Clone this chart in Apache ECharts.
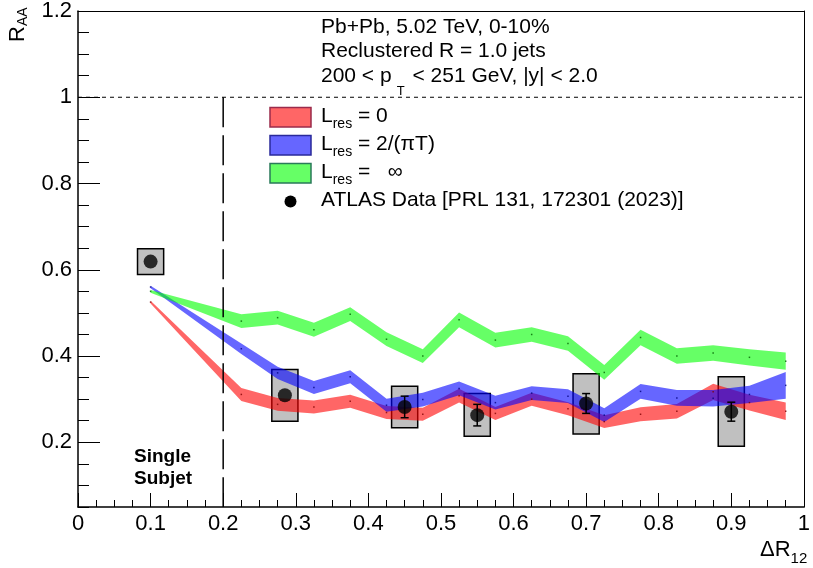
<!DOCTYPE html>
<html>
<head>
<meta charset="utf-8">
<script src="https://cdn.jsdelivr.net/npm/echarts@6/dist/echarts.min.js"></script>
<style>
html,body{margin:0;padding:0;background:#fff;}
#chart{width:813px;height:568px;}
</style>
</head>
<body>
<div id="chart"></div>
<script>
// ---------------- data ----------------
const xTheory = [0.1, 0.225, 0.275, 0.325, 0.375, 0.425, 0.475, 0.525, 0.575, 0.625, 0.675, 0.725, 0.775, 0.825, 0.875, 0.925, 0.975];

const lres0Center = [0.525, 0.311, 0.288, 0.282, 0.295, 0.269, 0.265, 0.308, 0.267, 0.300, 0.278, 0.248, 0.265, 0.272, 0.317, 0.292, 0.272];
const lres0Half   = [0.003, 0.015, 0.015, 0.015, 0.015, 0.015, 0.015, 0.016, 0.015, 0.015, 0.015, 0.015, 0.016, 0.017, 0.019, 0.018, 0.020];

const lresPiCenter = [0.560, 0.417, 0.361, 0.327, 0.352, 0.286, 0.299, 0.325, 0.292, 0.314, 0.307, 0.263, 0.318, 0.303, 0.302, 0.311, 0.332];
const lresPiHalf   = [0.003, 0.012, 0.014, 0.015, 0.015, 0.015, 0.016, 0.016, 0.016, 0.016, 0.016, 0.016, 0.017, 0.018, 0.019, 0.020, 0.031];

const lresInfCenter = [0.550, 0.481, 0.489, 0.461, 0.497, 0.439, 0.400, 0.484, 0.437, 0.450, 0.429, 0.362, 0.443, 0.400, 0.407, 0.397, 0.388];
const lresInfHalf   = [0.003, 0.016, 0.016, 0.016, 0.016, 0.016, 0.016, 0.017, 0.017, 0.017, 0.017, 0.017, 0.018, 0.018, 0.018, 0.019, 0.020];

const dataX    = [0.1, 0.285, 0.45, 0.55, 0.70, 0.90];
const dataY    = [0.619, 0.309, 0.282, 0.263, 0.290, 0.271];
const statErr  = [0, 0, 0.025, 0.025, 0.023, 0.022];
const systLow  = [0.589, 0.249, 0.234, 0.214, 0.219, 0.191];
const systHigh = [0.649, 0.369, 0.330, 0.313, 0.359, 0.352];

const yMajorTicks = [0.2, 0.4, 0.6, 0.8, 1.0, 1.2];
const yMinorTicks = [0.05, 0.1, 0.15, 0.25, 0.3, 0.35, 0.45, 0.5, 0.55, 0.65, 0.7, 0.75, 0.85, 0.9, 0.95, 1.05, 1.1, 1.15];
const unityLevel = 1.0;
const singleSubjetCut = 0.2;
const xMin = 0, xMax = 1, yMin = 0.05, yMax = 1.2;

// ---------------- styles ----------------
const FONT = '"Liberation Sans", Arial, Helvetica, sans-serif';
const BOX_HALF = 0.018;
const RED = 'rgba(255,0,0,0.6)', BLUE = 'rgba(0,0,255,0.6)', GREEN = 'rgba(0,255,0,0.6)';
const TXT = 21;

const measureCtx = document.createElement('canvas').getContext('2d');
function textWidth(t, size, weight) {
  measureCtx.font = (weight || 'normal') + ' ' + size + 'px ' + FONT;
  return measureCtx.measureText(t).width;
}
// segments: [{t, size, dy, weight}] laid out from x with given baseline
function richLine(segments, x, baseline) {
  const out = [];
  let cx = x;
  segments.forEach(s => {
    const size = s.size || TXT;
    const base = baseline + (s.dy || 0);
    out.push({
      type: 'text', x: cx, y: base - 0.35 * size, z: 100,
      style: { text: s.t, font: (s.weight || 'normal') + ' ' + size + 'px ' + FONT, fill: '#000',
               textAlign: 'left', textVerticalAlign: 'middle', verticalAlign: 'middle' }
    });
    cx += textWidth(s.t, size, s.weight) + (s.gap || 0);
  });
  return out;
}

function bandSeries(name, center, half, color, dotColor) {
  return [{
    type: 'custom', name: name, xAxisIndex: 0, yAxisIndex: 0, silent: true, z: 3,
    data: xTheory.map((x, i) => [x, center[i] - half[i], center[i] + half[i]]),
    encode: { x: 0, y: [1, 2] },
    renderItem: function (params, api) {
      if (params.dataIndex !== 0) return null;
      const pts = [];
      for (let i = 0; i < xTheory.length; i++) pts.push(api.coord([xTheory[i], center[i] + half[i]]));
      for (let i = xTheory.length - 1; i >= 0; i--) pts.push(api.coord([xTheory[i], center[i] - half[i]]));
      return { type: 'polygon', shape: { points: pts }, style: { fill: color, stroke: null } };
    }
  }, {
    type: 'scatter', xAxisIndex: 0, yAxisIndex: 0, silent: true, z: 4,
    symbol: 'rect', symbolSize: 1.5,
    itemStyle: { color: dotColor },
    data: xTheory.map((x, i) => [x, center[i]])
  }];
}

const series = [];
// systematic boxes
series.push({
  type: 'custom', xAxisIndex: 0, yAxisIndex: 0, silent: true, z: 2,
  data: dataX.map((x, i) => [x, systLow[i], systHigh[i]]),
  encode: { x: 0, y: [1, 2] },
  renderItem: function (params, api) {
    const x = api.value(0), lo = api.value(1), hi = api.value(2);
    const p1 = api.coord([x - BOX_HALF, hi]);
    const p2 = api.coord([x + BOX_HALF, lo]);
    return { type: 'rect', shape: { x: p1[0], y: p1[1], width: p2[0] - p1[0], height: p2[1] - p1[1] },
             style: { fill: '#c0c0c0', stroke: '#000', lineWidth: 1.5 } };
  }
});
series.push(...bandSeries('Lres = 0', lres0Center, lres0Half, RED, '#800000'));
series.push(...bandSeries('Lres = 2/(piT)', lresPiCenter, lresPiHalf, BLUE, '#000080'));
series.push(...bandSeries('Lres = inf', lresInfCenter, lresInfHalf, GREEN, '#006000'));
// stat error bars
series.push({
  type: 'custom', xAxisIndex: 0, yAxisIndex: 0, silent: true, z: 6,
  data: dataX.map((x, i) => [x, dataY[i], statErr[i]]),
  encode: { x: 0, y: 1 },
  renderItem: function (params, api) {
    const x = api.value(0), y = api.value(1), e = api.value(2);
    if (!e) return null;
    const t = api.coord([x, y + e]), b = api.coord([x, y - e]);
    const c = 4;
    const st = { stroke: '#000', lineWidth: 1.5 };
    return { type: 'group', children: [
      { type: 'line', shape: { x1: t[0], y1: t[1], x2: b[0], y2: b[1] }, style: st },
      { type: 'line', shape: { x1: t[0] - c, y1: t[1], x2: t[0] + c, y2: t[1] }, style: st },
      { type: 'line', shape: { x1: b[0] - c, y1: b[1], x2: b[0] + c, y2: b[1] }, style: st }
    ] };
  }
});
// data markers
series.push({
  type: 'scatter', name: 'ATLAS Data', xAxisIndex: 0, yAxisIndex: 0, silent: true, z: 7,
  symbol: 'circle', symbolSize: 14, itemStyle: { color: '#000' },
  data: dataX.map((x, i) => [x, dataY[i]])
});
// reference lines
series.push({
  type: 'line', xAxisIndex: 0, yAxisIndex: 0, silent: true, z: 8, symbol: 'none',
  lineStyle: { color: '#000', width: 1, type: [4, 4] },
  data: [[xMin, unityLevel], [xMax, unityLevel]]
});
series.push({
  type: 'line', xAxisIndex: 0, yAxisIndex: 0, silent: true, z: 8, symbol: 'none',
  lineStyle: { color: '#000', width: 1.5, type: [30, 8] },
  data: [[singleSubjetCut, unityLevel], [singleSubjetCut, yMin]]
});

const fmt = v => String(parseFloat(Number(v).toFixed(3)));
const labelStyle = { color: '#000', fontFamily: FONT, fontSize: 22 };

// ---------------- graphics (text) ----------------
const graphics = [];
graphics.push(...richLine([{ t: 'Pb+Pb, 5.02 TeV, 0-10%' }], 321, 35));
graphics.push(...richLine([{ t: 'Reclustered R = 1.0 jets' }], 321, 59));
graphics.push(...richLine([{ t: '200 < p', gap: 5 }, { t: 'T', size: 13, dy: 12, gap: 2 }, { t: ' < 251 GeV, |y| < 2.0' }], 321, 84));

const legendRows = [
  { fill: RED, stroke: '#9b2b4b', base: 124, segs: [{ t: 'L' }, { t: 'res', size: 14, dy: 5 }, { t: ' = 0' }] },
  { fill: BLUE, stroke: '#2a2a9a', base: 152, segs: [{ t: 'L' }, { t: 'res', size: 14, dy: 5 }, { t: ' = 2/(\u03C0T)' }] },
  { fill: GREEN, stroke: '#2a7a5a', base: 180, segs: [{ t: 'L' }, { t: 'res', size: 14, dy: 5 }, { t: ' =   \u221E' }] }
];
legendRows.forEach(r => {
  graphics.push({ type: 'rect', z: 100, shape: { x: 270, y: r.base - 16.5, width: 41, height: 19.5 },
                  style: { fill: r.fill, stroke: r.stroke, lineWidth: 1.5 } });
  graphics.push(...richLine(r.segs, 321, r.base));
});
graphics.push({ type: 'circle', z: 100, shape: { cx: 290.5, cy: 201.5, r: 6 }, style: { fill: '#000' } });
graphics.push(...richLine([{ t: 'ATLAS Data [PRL 131, 172301 (2023)]' }], 321, 208));

graphics.push(...richLine([{ t: 'Single', size: 19, weight: 'bold' }], 134, 463));
graphics.push(...richLine([{ t: 'Subjet', size: 19, weight: 'bold' }], 134, 485));

// x-axis title
graphics.push(...richLine([{ t: '\u0394R', size: 22 }, { t: '12', size: 15, dy: 6 }], 760, 558));
// y-axis title (rotated)
graphics.push({
  type: 'group', x: 0, y: 42, rotation: Math.PI / 2, z: 100,
  children: [
    { type: 'text', x: 0, y: 18, style: { text: 'R', font: 'normal 22px ' + FONT, fill: '#000', textAlign: 'left', textVerticalAlign: 'middle', verticalAlign: 'middle' } },
    { type: 'text', x: textWidth('R', 22), y: 23.5, style: { text: 'AA', font: 'normal 14px ' + FONT, fill: '#000', textAlign: 'left', textVerticalAlign: 'middle', verticalAlign: 'middle' } }
  ]
});

// ---------------- chart ----------------
const chart = echarts.init(document.getElementById('chart'), null, { renderer: 'canvas' });
chart.setOption({
  animation: false,
  backgroundColor: '#fff',
  grid: { left: 78, right: 4, top: 10, bottom: 61, containLabel: false },
  xAxis: [{
    type: 'value', min: xMin, max: xMax, interval: 0.1, position: 'bottom',
    axisLine: { show: true, onZero: false, lineStyle: { color: '#000', width: 1.5 } },
    axisTick: { show: true, inside: true, length: 14, lineStyle: { color: '#000', width: 1 } },
    minorTick: { show: true, splitNumber: 4, length: 7, lineStyle: { color: '#000', width: 1 } },
    axisLabel: Object.assign({ margin: 6, formatter: fmt, showMinLabel: true, showMaxLabel: true }, labelStyle),
    splitLine: { show: false }, minorSplitLine: { show: false }
  }, {
    type: 'value', min: xMin, max: xMax, position: 'top',
    axisLine: { show: true, onZero: false, lineStyle: { color: '#000', width: 1 } },
    axisTick: { show: false }, axisLabel: { show: false }, splitLine: { show: false }
  }],
  yAxis: [{
    type: 'value', min: yMin, max: yMax, position: 'left',
    axisLine: { show: true, onZero: false, lineStyle: { color: '#000', width: 1.5 } },
    axisTick: { show: true, inside: true, length: 22, customValues: yMajorTicks, lineStyle: { color: '#000', width: 1 } },
    axisLabel: Object.assign({ margin: 6, customValues: yMajorTicks, formatter: fmt, showMinLabel: true, showMaxLabel: true }, labelStyle),
    splitLine: { show: false }
  }, {
    type: 'value', min: yMin, max: yMax, position: 'left',
    axisLine: { show: false },
    axisTick: { show: true, inside: true, length: 11, customValues: yMinorTicks, lineStyle: { color: '#000', width: 1 } },
    axisLabel: { show: false }, splitLine: { show: false }
  }, {
    type: 'value', min: yMin, max: yMax, position: 'right',
    axisLine: { show: true, onZero: false, lineStyle: { color: '#000', width: 1 } },
    axisTick: { show: false }, axisLabel: { show: false }, splitLine: { show: false }
  }],
  series: series,
  graphic: { elements: graphics }
});
</script>
</body>
</html>
